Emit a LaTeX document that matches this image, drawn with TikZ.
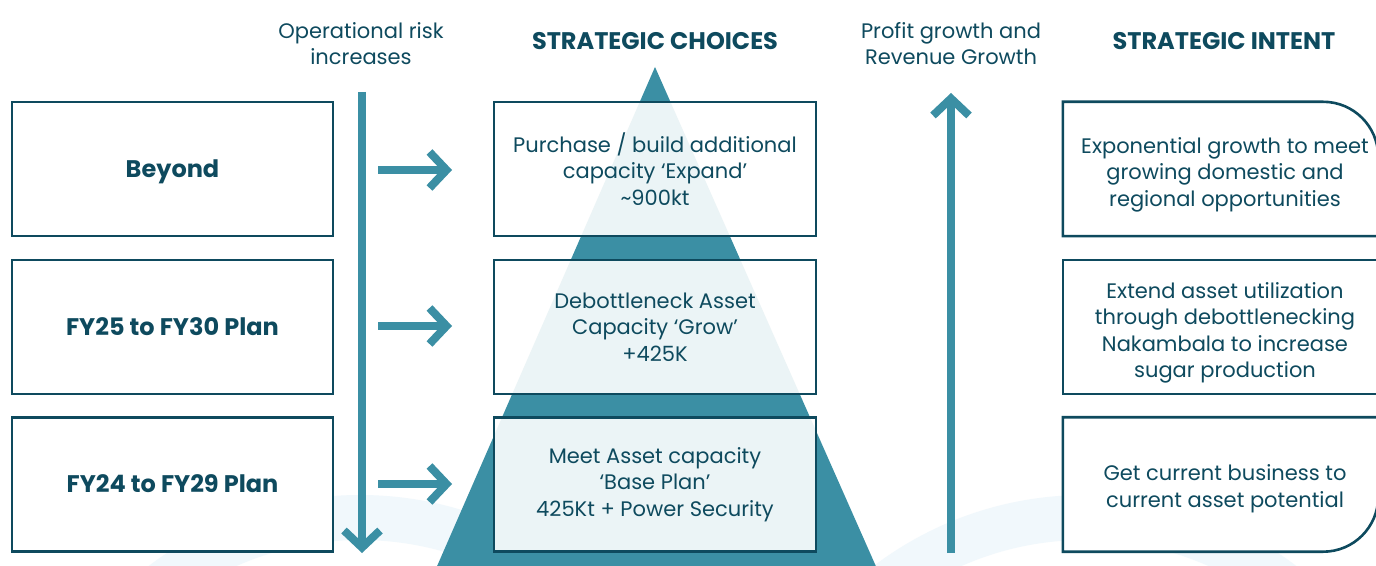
\documentclass[tikz,border=0pt]{standalone}
\usepackage{fontspec}
\setmainfont{Poppins}
\usetikzlibrary{arrows.meta}
\definecolor{ink}{HTML}{0E4A5E}
\definecolor{tealc}{HTML}{3B8FA4}
\definecolor{haze}{HTML}{F1F8FC}
\pgfdeclarelayer{back}
\pgfdeclarelayer{frames}
\pgfsetlayers{back,frames,main}
\begin{document}
\begin{tikzpicture}[x=1pt,y=1pt,
  txt/.style={text=ink,align=center,font=\fontsize{21}{26.5}\selectfont},
  head/.style={text=ink,align=center,font=\fontsize{24}{26.5}\selectfont\bfseries},
  sidebox/.style={draw=ink,line width=2.6pt,fill=white,minimum width=321pt,minimum height=134pt,inner sep=0pt,head,text height=17pt,text depth=0pt},
  choicebox/.style={draw=ink,line width=2.6pt,fill=white,fill opacity=0.9,text opacity=1,minimum width=322pt,minimum height=134pt,inner sep=0pt,txt},
  intentbox/.style={minimum width=315pt,minimum height=134pt,inner sep=0pt,txt},
  frame/.style={draw=ink,line width=2.6pt,fill=white},
  flow/.style={draw=tealc,line width=8pt,-{Straight Barb[length=17pt,width=36pt]}}]
\useasboundingbox (0,0) rectangle (1376,565);
\clip (0,0) rectangle (1376,565);

% faint rings and the pyramid behind everything
\begin{pgfonlayer}{back}
  \fill[white] (0,0) rectangle (1376,565);
  \draw[haze,line width=45pt] (360,-280) circle[radius=327.5];
  \draw[haze,line width=45pt] (1085,-280) circle[radius=327.5];
  \fill[tealc] (655,498) -- (882,-15) -- (431,-15) -- cycle;
\end{pgfonlayer}

% column headings
\node[txt] (risk) at (361,521.5) {Operational risk\\increases};
\node[head] (choices) at (655,524) {STRATEGIC CHOICES};
\node[txt] (profit) at (951,521.5) {Profit growth and\\Revenue Growth};
\node[head] (intent) at (1224,524) {STRATEGIC INTENT};

% horizon column
\node[sidebox] (beyond) at (172.5,396) {Beyond};
\node[sidebox] (fy25) at (172.5,238) {FY25 to FY30 Plan};
\node[sidebox] (fy24) at (172.5,80.5) {FY24 to FY29 Plan};

% strategic choices
\node[choicebox] (expand) at (655,396) {Purchase / build additional\\capacity ‘Expand’\\\textasciitilde900kt};
\node[choicebox] (grow) at (655,238) {Debottleneck Asset\\Capacity ‘Grow’\\+425K};
\node[choicebox] (base) at (655,80.5) {Meet Asset capacity\\‘Base Plan’\\425Kt + Power Security};

% strategic intent
\node[intentbox] (int1) at (1220.5,396) {};
\node[intentbox,draw=ink,line width=2.6pt,fill=white] (int2) at (1220.5,238) {};
\node[intentbox] (int3) at (1220.5,80.5) {};
\node[txt] (int1t) at (1225,390.5) {Exponential growth to meet\\growing domestic and\\regional opportunities};
\node[txt] (int2t) at (1225,232) {Extend asset utilization\\through debottlenecking\\Nakambala to increase\\sugar production};
\node[txt] (int3t) at (1225,76.5) {Get current business to\\current asset potential};
\begin{pgfonlayer}{frames}
  \draw[frame] (int1.south west) -- (int1.north west) -- ([xshift=-55pt]int1.north east)
    arc[start angle=90,end angle=0,radius=55pt] -- (int1.south east) -- cycle;
  \draw[frame] (int3.north west) -- (int3.north east) -- ([yshift=55pt]int3.south east)
    arc[start angle=0,end angle=-90,radius=55pt] -- (int3.south west) -- cycle;
\end{pgfonlayer}

% arrows
\coordinate (riskTop) at (362,473);
\coordinate (riskEnd) at (362,12);
\coordinate (growBase) at (951,12);
\coordinate (growTop) at (951,472);
\draw[flow] (riskTop) -- (riskEnd);
\draw[flow] (growBase) -- (growTop);
\coordinate (a1) at (378,395); \coordinate (b1) at (452,395);
\coordinate (a2) at (378,239); \coordinate (b2) at (452,239);
\coordinate (a3) at (378,81);  \coordinate (b3) at (452,81);
\draw[flow] (a1) -- (b1);
\draw[flow] (a2) -- (b2);
\draw[flow] (a3) -- (b3);
\end{tikzpicture}
\end{document}
